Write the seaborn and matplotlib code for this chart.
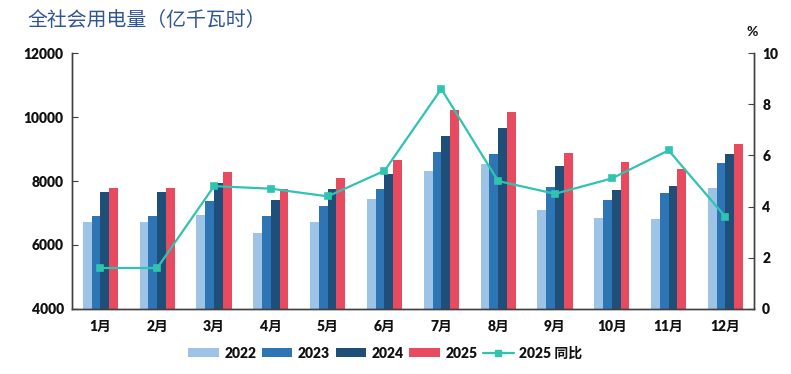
import numpy as np
import pandas as pd
import matplotlib
matplotlib.use("Agg")
import matplotlib.pyplot as plt
from matplotlib.lines import Line2D
import seaborn as sns

months = ["1月", "2月", "3月", "4月", "5月", "6月", "7月", "8月", "9月", "10月", "11月", "12月"]
years = ["2022", "2023", "2024", "2025"]
use_2022 = [6730, 6730, 6930, 6370, 6710, 7450, 8320, 8520, 7090, 6830, 6820, 7790]
use_2023 = [6910, 6910, 7370, 6900, 7220, 7750, 8900, 8850, 7800, 7420, 7630, 8560]
use_2024 = [7660, 7660, 7930, 7410, 7750, 8210, 9410, 9660, 8480, 7730, 7840, 8830]
use_2025 = [7770, 7770, 8280, 7740, 8090, 8670, 10230, 10160, 8890, 8580, 8370, 9160]
yoy_2025 = [1.6, 1.6, 4.8, 4.7, 4.4, 5.4, 8.6, 5.0, 4.5, 5.1, 6.2, 3.6]

bar_colors = ["#9dc3e6", "#2e75b6", "#1f4e79", "#e84a5f"]
line_color = "#2ec4b0"
axis_color = "#404040"

sns.set_style("white")
plt.rcParams["font.family"] = ["Lato", "Noto Sans CJK SC", "DejaVu Sans"]

long = pd.DataFrame({
    "month": months * 4,
    "year": sum([[y] * 12 for y in years], []),
    "value": use_2022 + use_2023 + use_2024 + use_2025,
})
yoy = pd.DataFrame({"month": months, "yoy": yoy_2025})

fig = plt.figure(figsize=(7.91, 3.74), dpi=100)
ax = fig.add_axes([0.091, 0.174, 0.862, 0.684])

sns.barplot(data=long, x="month", y="value", hue="year", order=months,
            hue_order=years, palette=bar_colors, width=0.62, gap=0,
            saturation=1, linewidth=0, ax=ax, legend=True)
ax.set_ylim(4000, 12000)
ax.set_yticks(range(4000, 12001, 2000))
ax.set_xlim(-0.5, 11.5)
ax.set_xlabel("")
ax.set_ylabel("")

ax2 = ax.twinx()
sns.pointplot(data=yoy, x="month", y="yoy", order=months, color=line_color,
              markers="s", markersize=5, linewidth=1.6, ax=ax2)
ax2.set_ylim(0, 10)
ax2.set_yticks(range(0, 11, 2))
ax2.set_xlim(-0.5, 11.5)
ax2.set_ylabel("")
ax2.set_xlabel("")

for a in (ax, ax2):
    for side in ("left", "right", "bottom"):
        a.spines[side].set_color(axis_color)
        a.spines[side].set_linewidth(1.0)
    a.spines["top"].set_visible(False)

ax.tick_params(axis="y", direction="in", length=4, color=axis_color,
               labelsize=10, pad=6)
ax2.tick_params(axis="y", direction="in", length=4, color=axis_color,
                labelsize=10, pad=6)
ax.tick_params(axis="x", which="major", length=0, labelsize=10, pad=8)
ax.set_xticks(np.arange(0.5, 11, 1), minor=True)
ax.tick_params(axis="x", which="minor", direction="in", length=4, color=axis_color)
for lbl in ax.get_yticklabels() + ax2.get_yticklabels() + ax.get_xticklabels():
    lbl.set_fontweight("heavy")
    lbl.set_color("#111111")

fig.text(0.951, 0.915, "%", fontsize=10, fontweight="bold", color="#111111",
         ha="center", va="center")
fig.text(0.035, 0.945, "全社会用电量（亿千瓦时）", fontsize=14.3, fontweight="medium",
         color="#2f5597", ha="left", va="center",
         family=["Noto Sans CJK SC", "DejaVu Sans"])

handles, labels = ax.get_legend_handles_labels()
ax.get_legend().remove()
handles.append(Line2D([], [], color=line_color, marker="s", markersize=5, linewidth=1.6))
labels.append("2025 同比")
leg = fig.legend(handles, labels, loc="center", bbox_to_anchor=(0.487, 0.056), ncol=5,
                 frameon=False, fontsize=10, handlelength=2.2, handleheight=0.6,
                 handletextpad=0.4, columnspacing=0.4)
for t in leg.get_texts():
    t.set_fontweight("heavy")
    t.set_color("#111111")

fig.savefig("out.png", dpi=100)
